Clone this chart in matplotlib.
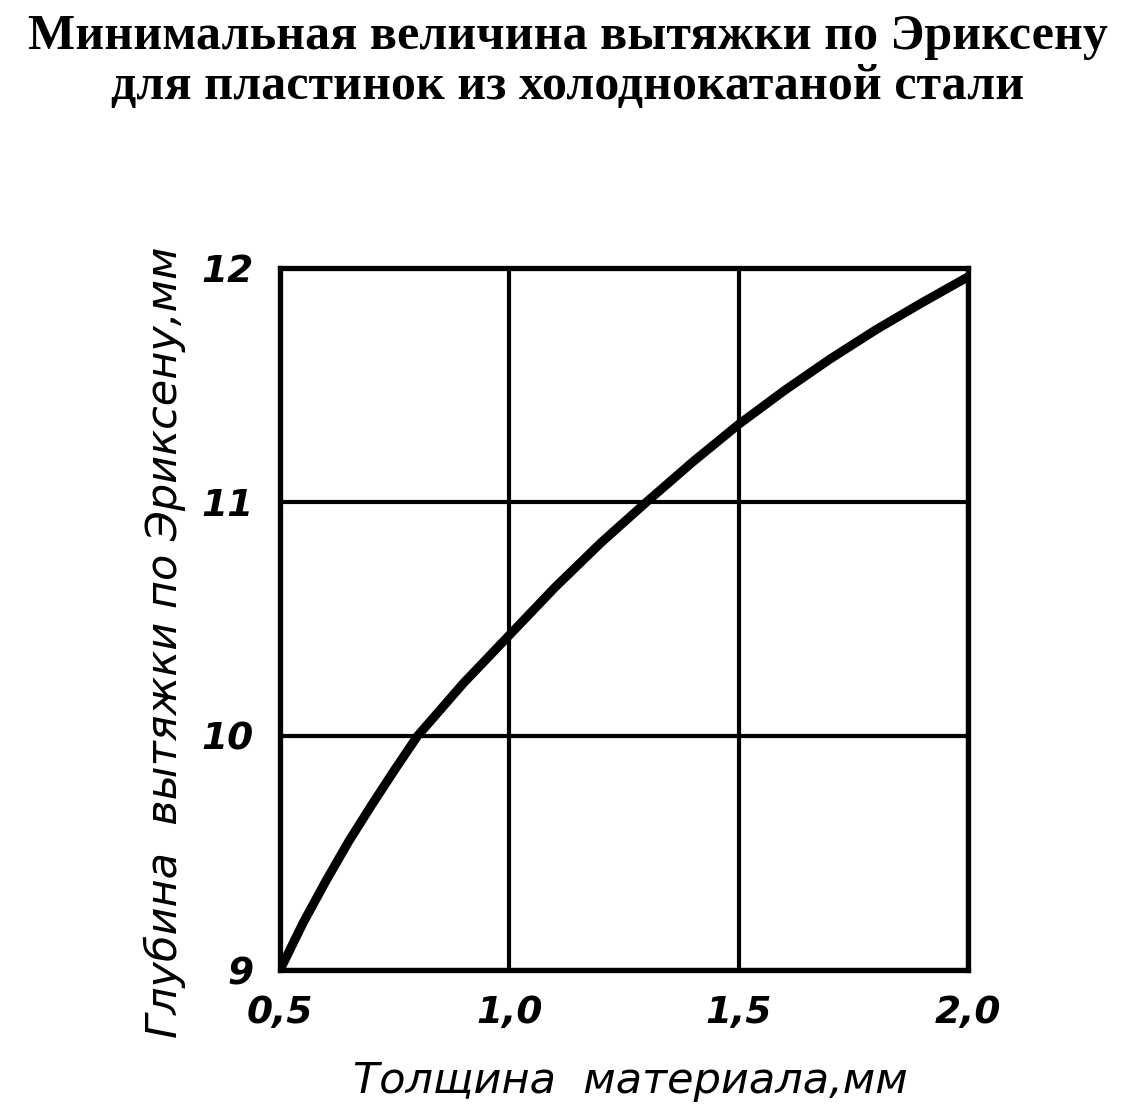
import numpy as np
import matplotlib
matplotlib.use('Agg')
import matplotlib.pyplot as plt

# values
thickness = [0.5, 0.55, 0.6, 0.65, 0.7, 0.75, 0.8, 0.9, 1.0, 1.1, 1.2, 1.3,
             1.4, 1.5, 1.6, 1.7, 1.8, 1.9, 2.0]
depth = [9.0, 9.2, 9.38, 9.55, 9.705, 9.855, 10.0, 10.225, 10.43, 10.635, 10.825, 11.0,
         11.17, 11.33, 11.475, 11.61, 11.735, 11.85, 11.96]
xticks = [0.5, 1.0, 1.5, 2.0]
xticklabels = ['0,5', '1,0', '1,5', '2,0']
yticks = [9, 10, 11, 12]
yticklabels = ['9', '10', '11', '12']

title = 'Минимальная величина вытяжки по Эриксену\nдля пластинок из холоднокатаной стали'
xlabel = 'Толщина  материала,мм'
ylabel = 'Глубина  вытяжки по Эриксену,мм'

fig = plt.figure(figsize=(11.35, 11.15), dpi=100)
ax = fig.add_axes([0.2467, 0.130, 0.606, 0.630])

ax.plot(thickness, depth, color='black', lw=6.5, solid_capstyle='round',
        solid_joinstyle='round', zorder=3)

ax.set_xlim(0.5, 2.0)
ax.set_ylim(9, 12)
ax.set_xticks(xticks)
ax.set_xticklabels(xticklabels, fontsize=27, style='italic', fontweight='bold',
                   family='DejaVu Sans')
ax.set_yticks(yticks)
ax.set_yticklabels(yticklabels, fontsize=27, style='italic', fontweight='bold',
                   family='DejaVu Sans')
ax.tick_params(axis='x', length=0, pad=18)
ax.tick_params(axis='y', length=0, pad=19)
ax.grid(True, color='black', lw=3)
for s in ax.spines.values():
    s.set_linewidth(3.8)

ax.set_xlabel(xlabel, fontsize=31, style='italic')
ax.set_ylabel(ylabel, fontsize=31, style='italic')
ax.xaxis.set_label_coords(0.51, -0.128)
ax.yaxis.set_label_coords(-0.136, 0.466)

fig.text(0.5, 0.987, title, ha='center', va='top', fontsize=36,
         fontweight='bold', family='Liberation Serif', linespacing=1.1)

fig.savefig('out.png', dpi=100, facecolor='white')
